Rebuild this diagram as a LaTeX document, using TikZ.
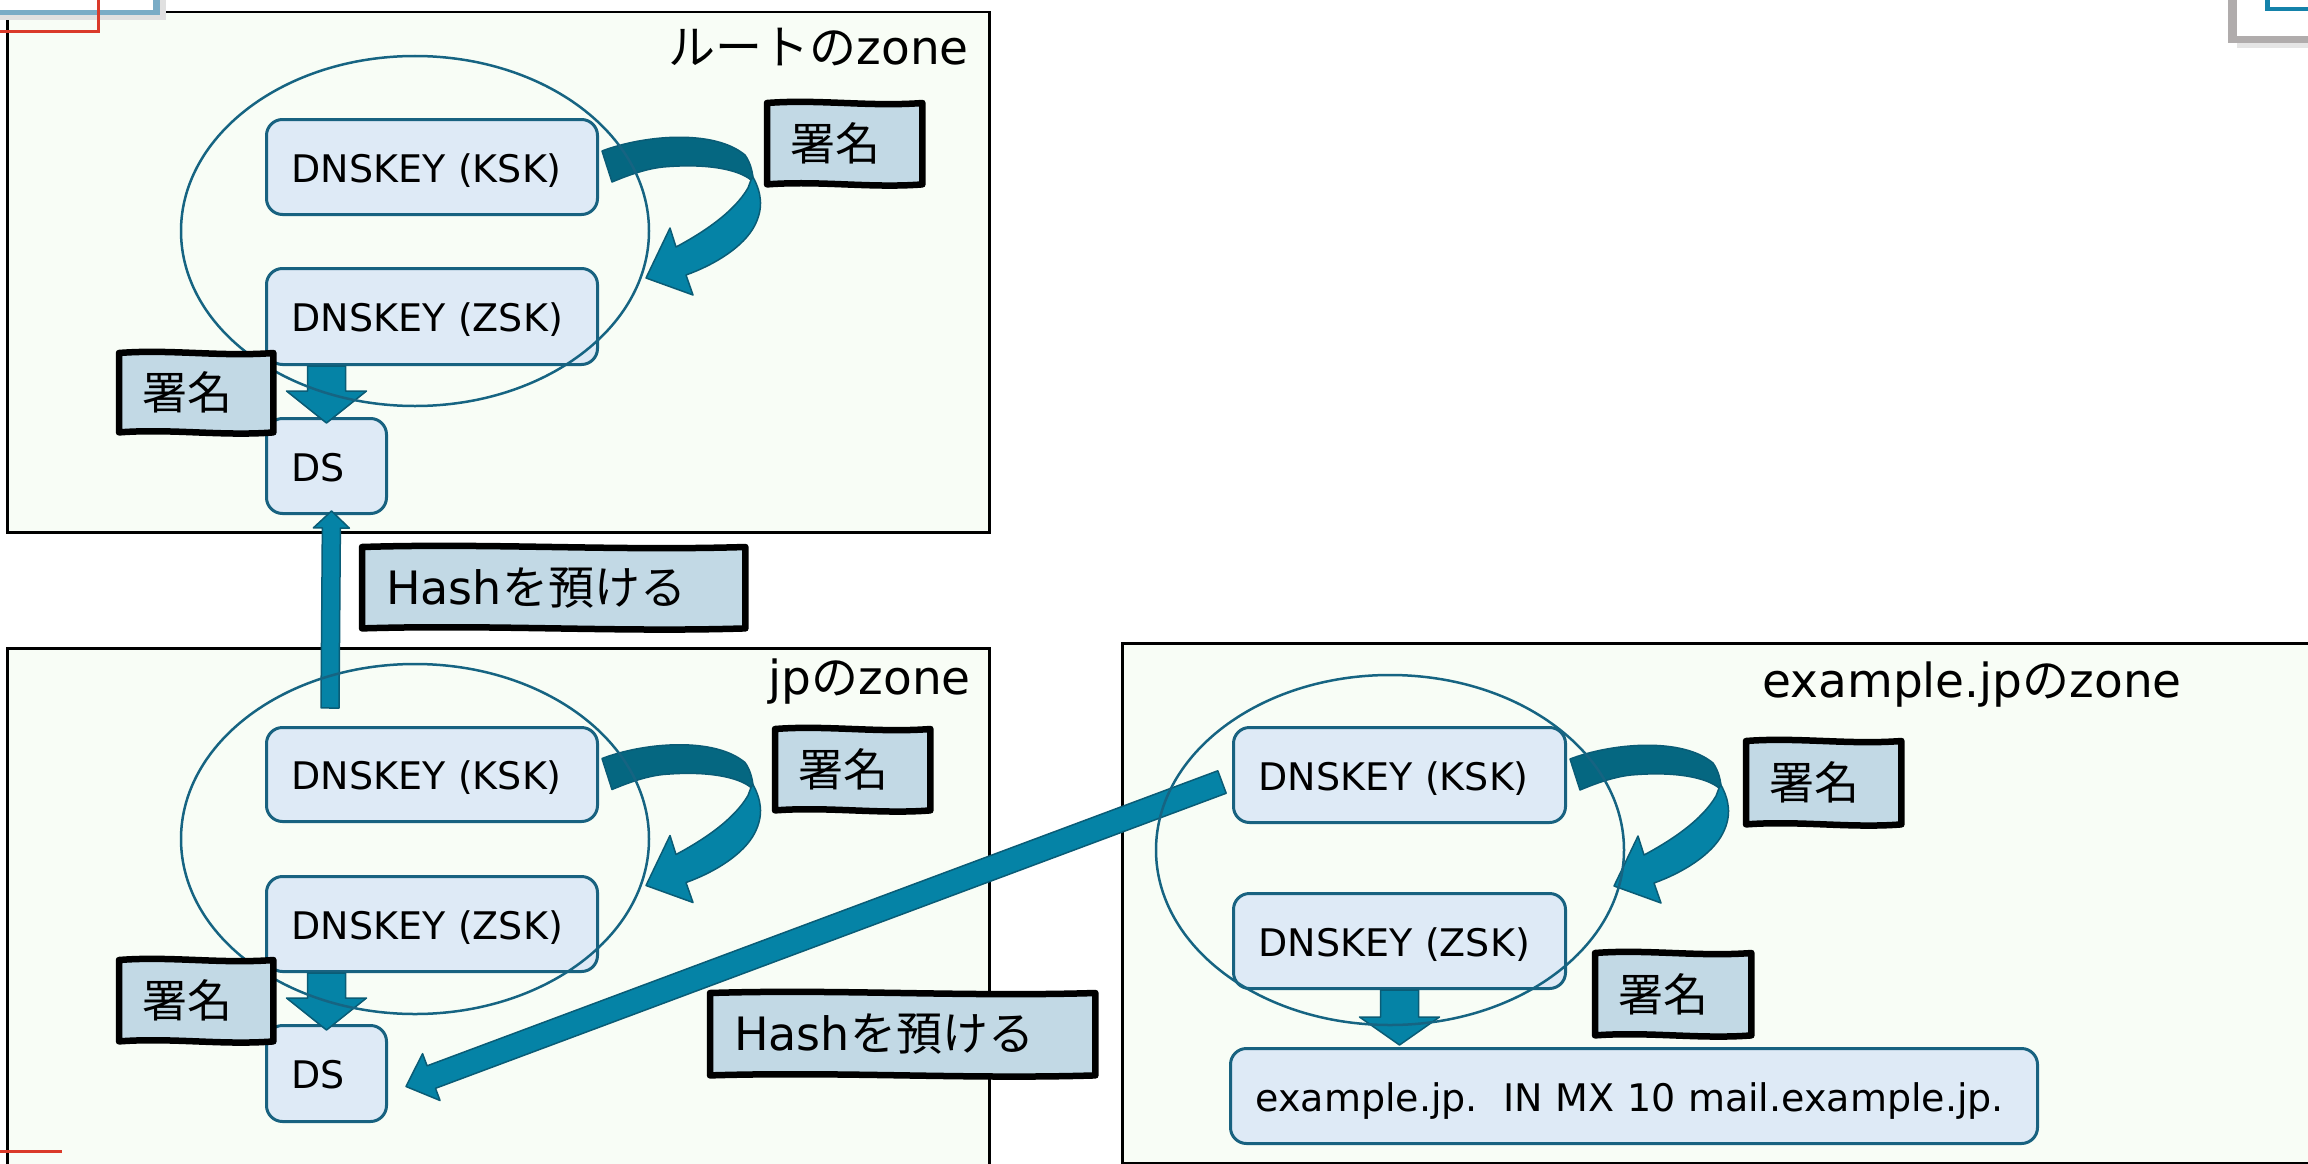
\documentclass[tikz,border=0pt]{standalone}
\usepackage{fontspec}
\setmainfont{DejaVu Sans}
\newfontfamily\jpfont{Noto Sans CJK JP}
\usetikzlibrary{calc,shapes.geometric}

\definecolor{zonefill}{RGB}{248,253,246}
\definecolor{boxfill}{RGB}{222,234,246}
\definecolor{boxline}{RGB}{24,98,128}
\definecolor{ringc}{RGB}{22,100,130}
\definecolor{arrowfill}{RGB}{5,131,166}
\definecolor{arrowdark}{RGB}{5,103,129}
\definecolor{arrowedge}{RGB}{10,92,118}
\definecolor{sigfill}{RGB}{194,217,229}
\definecolor{decoblue}{RGB}{122,172,198}
\definecolor{decored}{RGB}{218,58,42}
\definecolor{decogrey}{RGB}{176,172,172}
\definecolor{decoteal}{RGB}{20,130,170}

\tikzset{
  zone/.style={draw=black, line width=2.5pt, fill=zonefill, anchor=north west, inner sep=0pt},
  kbox/.style={draw=boxline, fill=boxfill, line width=3pt, rounded corners=16pt,
    inner xsep=25pt, inner ysep=0pt, anchor=north west, align=left,
    text height=30pt, text depth=0pt,
    font=\fontsize{38}{44}\selectfont},
  sig/.style={fill=sigfill, inner xsep=23pt, inner ysep=0pt, anchor=north west,
    align=left, minimum height=81pt, font={\jpfont\fontsize{45}{52}\selectfont}},
  hashlbl/.style={fill=sigfill, inner xsep=24pt, inner ysep=0pt, anchor=north west,
    align=left, minimum height=81pt, font=\fontsize{46}{52}\selectfont},
  hborder/.style={draw=black, line width=6.5pt, line join=round},
  title/.style={anchor=base east, inner sep=0pt, font=\fontsize{47}{54}\selectfont},
  ring/.style={draw=ringc, line width=2.5pt, ellipse, inner sep=0pt,
    minimum width=468pt, minimum height=350pt},
  fat/.style={fill=arrowfill, draw=arrowedge, line width=1.5pt, line join=round},
  fatdark/.style={fill=arrowdark, draw=arrowedge, line width=1.5pt, line join=round},
}

\newcommand\fatarrow[5]{%
  \coordinate (fac) at ($(#2)!#5!(#1)$);
  \filldraw[fat] ($(#1)!#3!90:(#2)$) -- ($(fac)!#3!-90:(#1)$) -- ($(fac)!#4!-90:(#1)$)
    -- (#2) -- ($(fac)!#4!90:(#1)$) -- ($(fac)!#3!90:(#1)$) -- ($(#1)!#3!-90:(#2)$) -- cycle;}

\newcommand\curlarrow[1]{%
  \begin{scope}[shift={(#1.east)}]
    \filldraw[fatdark] (3,-16) .. controls (45,-32) and (115,-38) .. (146,-12)
      .. controls (151,-5) and (153,3) .. (154,10) -- (152,13)
      .. controls (140,3) and (110,-4) .. (64,0)
      .. controls (45,2) and (25,10) .. (13,15) -- cycle;
    \filldraw[fat] (154,10) .. controls (162,25) and (165,40) .. (156,58)
      .. controls (145,80) and (115,98) .. (87,108) -- (94,128) -- (47,111)
      -- (71,61) -- (77,80) .. controls (105,65) and (135,45) .. (149,21)
      -- (152,13) -- cycle;
  \end{scope}}

\newcommand\handborder[1]{%
  \draw[hborder] (#1.north west)
    .. controls ($(#1.north west)!0.33!(#1.north east)+(0,-4)$) and ($(#1.north west)!0.66!(#1.north east)+(0,4)$) .. (#1.north east)
    -- (#1.south east)
    .. controls ($(#1.south east)!0.33!(#1.south west)+(0,4)$) and ($(#1.south east)!0.66!(#1.south west)+(0,-4)$) .. (#1.south west)
    -- cycle;}

\begin{document}
\begin{tikzpicture}[x=1pt,y=-1pt]
\useasboundingbox (0,0) rectangle (2308,1164);
\fill[white] (0,0) rectangle (2308,1164);

% zones
\node[zone, minimum width=982pt, minimum height=520pt] (rootzone) at (6,11) {};
\node[zone, minimum width=982pt, minimum height=540pt] (jpzone) at (6,647) {};
\node[zone, minimum width=1210pt, minimum height=520pt] (exzone) at (1121,642) {};

% template decorations
\fill[black!12] (0,15.5) rectangle (166,20);
\fill[black!12] (160,0) rectangle (166,20);
\fill[decoblue] (0,10) rectangle (160,15.5);
\fill[decoblue] (153,0) rectangle (160,15.5);
\draw[decored, line width=3pt] (98,0) -- (98,32) -- (0,32);
\fill[black!10] (2237,43) rectangle (2308,48);
\fill[decogrey] (2228,0) rectangle (2237,43);
\fill[decogrey] (2228,36) rectangle (2308,43);
\fill[decoteal] (2265,0) rectangle (2270,11);
\fill[decoteal] (2265,7) rectangle (2308,11);
\draw[decored, line width=3pt] (0,1151) -- (62,1151);

% titles
\node[title] (roottitle) at (969,64) {{\jpfont ルートの}zone};
\node[title] (jptitle) at (971,694) {jp{\jpfont の}zone};
\node[title] (extitle) at (2182,697) {example.jp{\jpfont の}zone};

% root boxes
\node[kbox, text width=281pt, minimum height=95pt] (rksk) at (265,118) {DNSKEY (KSK)};
\node[kbox, text width=281pt, minimum height=96pt] (rzsk) at (265,267) {DNSKEY (ZSK)};
\node[kbox, text width=70pt, minimum height=95pt] (rds) at (265,417) {DS};
% jp boxes
\node[kbox, text width=281pt, minimum height=94pt] (jpksk) at (265,726) {DNSKEY (KSK)};
\node[kbox, text width=281pt, minimum height=95pt] (jpzsk) at (265,875) {DNSKEY (ZSK)};
\node[kbox, text width=70pt, minimum height=96pt] (jpds) at (265,1024) {DS};
% example boxes
\node[kbox, text width=282pt, minimum height=95pt] (exksk) at (1232,726) {DNSKEY (KSK)};
\node[kbox, text width=282pt, minimum height=95pt] (exzsk) at (1232,892) {DNSKEY (ZSK)};
\node[kbox, text width=757pt, minimum height=95pt] (exmx) at (1229,1047) {example.jp.\ \ IN MX 10 mail.example.jp.};

% signing arrows
\curlarrow{rksk}
\curlarrow{jpksk}
\curlarrow{exksk}
\coordinate (rdA) at (rds.north |- rzsk.south);
\coordinate (rdB) at ($(rds.north)+(0,6)$);
\fatarrow{rdA}{rdB}{19pt}{40pt}{32pt}
\coordinate (jdA) at (jpds.north |- jpzsk.south);
\coordinate (jdB) at ($(jpds.north)+(0,6)$);
\fatarrow{jdA}{jdB}{19pt}{40pt}{32pt}
\coordinate (edA) at (exzsk.south);
\coordinate (edB) at ($(exzsk.south |- exmx.north)+(0,-2)$);
\fatarrow{edA}{edB}{19pt}{40pt}{28pt}

% hash arrows
\coordinate (h1A) at ($(jpksk.north west)+(65,-18)$);
\coordinate (h1B) at ($(rds.south)+(5,-4)$);
\fatarrow{h1A}{h1B}{9pt}{18pt}{17pt}
\coordinate (h2A) at ($(exksk.west)+(-10,7)$);
\coordinate (h2B) at ($(jpds.east)+(18,13)$);
\fatarrow{h2A}{h2B}{12pt}{25pt}{27pt}

% rings
\node[ring] (rring) at (415,231) {};
\node[ring] (jpring) at (415,839) {};
\node[ring] (exring) at (1390,850) {};

% labels
\node[sig, text width=109pt] (rsig1) at (767,103) {署名};
\node[sig, text width=108pt, minimum height=79pt] (rsig2) at (119,353) {署名};
\node[sig, text width=109pt] (jsig1) at (775,729) {署名};
\node[sig, text width=108pt] (jsig2) at (119,960) {署名};
\node[sig, text width=109pt, minimum height=83pt] (esig1) at (1746,741) {署名};
\node[sig, text width=110pt, minimum height=82pt] (esig2) at (1595,953) {署名};
\node[hashlbl, text width=335pt] (hash1) at (362,547) {Hash{\jpfont を預ける}};
\node[hashlbl, text width=337pt, minimum height=82pt] (hash2) at (710,993) {Hash{\jpfont を預ける}};
\handborder{rsig1}
\handborder{rsig2}
\handborder{jsig1}
\handborder{jsig2}
\handborder{esig1}
\handborder{esig2}
\handborder{hash1}
\handborder{hash2}
\end{tikzpicture}
\end{document}
